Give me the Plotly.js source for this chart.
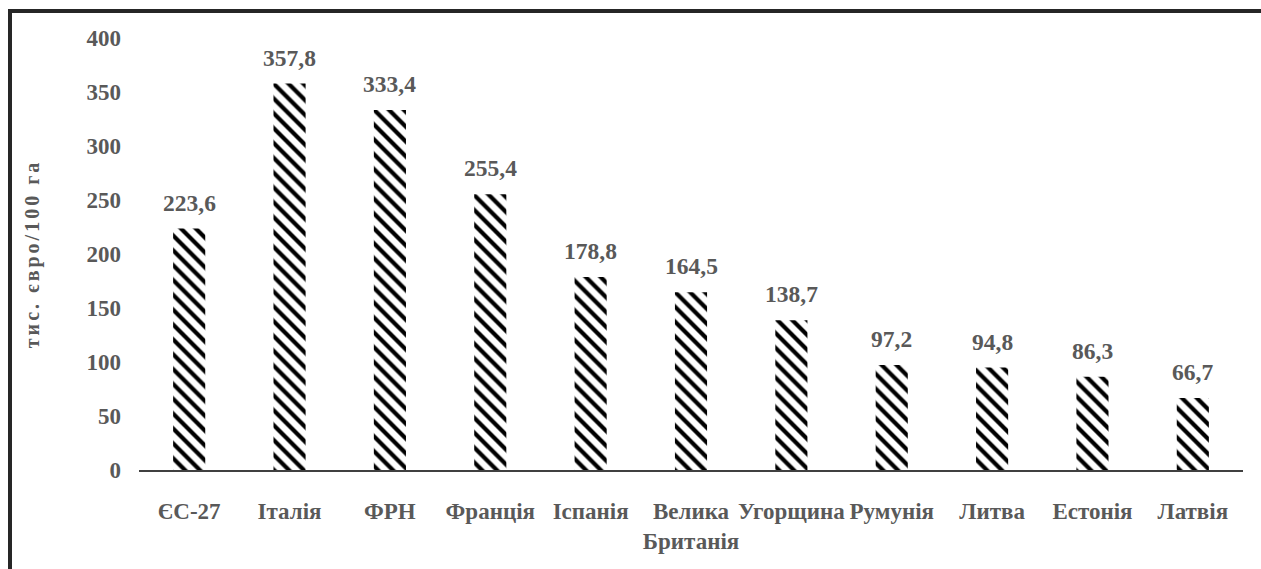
<!DOCTYPE html>
<html>
<head>
<meta charset="utf-8">
<script src="https://cdn.plot.ly/plotly-3.0.1.min.js"></script>
<style>
  html, body { margin: 0; padding: 0; background: #fff; }
  #wrap { position: relative; width: 1261px; height: 569px; overflow: hidden; }
  #chart { position: absolute; left: 0; top: 0; width: 1261px; height: 569px; }
  #frame { position: absolute; left: 8px; top: 9px; width: 1260px; height: 570px;
           border-top: 4px solid #262626; border-left: 4px solid #262626;
           pointer-events: none; box-sizing: border-box; }
  .ytitle { letter-spacing: 3px; }
</style>
</head>
<body>
<div id="wrap">
  <div id="chart"></div>
  <div id="frame"></div>
</div>
<script>
const categories = ['ЄС-27', 'Італія', 'ФРН', 'Франція', 'Іспанія', 'Велика<br>Британія',
                    'Угорщина', 'Румунія', 'Литва', 'Естонія', 'Латвія'];
const values = [223.6, 357.8, 333.4, 255.4, 178.8, 164.5, 138.7, 97.2, 94.8, 86.3, 66.7];
const yTickValues = [0, 50, 100, 150, 200, 250, 300, 350, 400];
const yTitle = 'тис. євро/100 га';

const textColor = '#595959';
const fontFamily = '"Liberation Serif", "Times New Roman", serif';

const trace = {
  type: 'bar',
  x: categories,
  y: values,
  marker: {
    color: '#ffffff',
    line: { width: 0 },
    pattern: { shape: '\\', fgcolor: '#000000', bgcolor: '#ffffff', size: 10.5, solidity: 0.4 }
  },
  hoverinfo: 'none'
};

const annotations = values.map((v, i) => ({
  x: categories[i],
  y: v,
  xref: 'x', yref: 'y',
  text: '<b>' + v.toFixed(1).replace('.', ',') + '</b>',
  showarrow: false,
  yanchor: 'middle',
  yshift: 26,
  font: { family: fontFamily, size: 23.5, color: textColor }
}));

const layout = {
  width: 1261,
  height: 569,
  margin: { l: 139, r: 18, t: 38, b: 99 },
  paper_bgcolor: '#ffffff',
  plot_bgcolor: '#ffffff',
  showlegend: false,
  bargap: 0.68,
  separators: ',.',
  font: { family: fontFamily, color: textColor, size: 23, weight: 'bold' },
  xaxis: {
    type: 'category',
    showgrid: false,
    zeroline: false,
    showline: true,
    linecolor: '#404040',
    linewidth: 1.5,
    ticks: '',
    tickangle: 0,
    ticklabelstandoff: 20,
    tickfont: { family: fontFamily, size: 23, color: textColor, weight: 'bold' },
    fixedrange: true
  },
  yaxis: {
    range: [0, 400],
    tickvals: yTickValues,
    showgrid: false,
    zeroline: false,
    showline: false,
    ticks: '',
    ticklabelstandoff: 17,
    tickfont: { family: fontFamily, size: 23, color: textColor, weight: 'bold' },
    title: {
      text: yTitle,
      standoff: 41,
      font: { family: fontFamily, size: 20, color: textColor, weight: 'bold' }
    },
    fixedrange: true
  },
  annotations: annotations
};

Plotly.newPlot('chart', [trace], layout, { displayModeBar: false, staticPlot: true });
</script>
</body>
</html>
